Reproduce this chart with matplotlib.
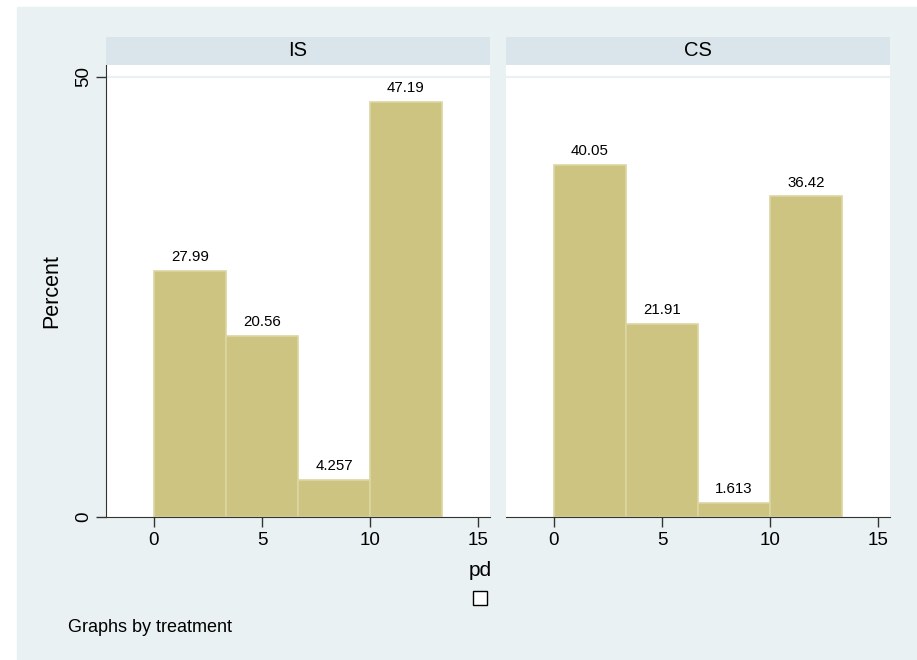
import matplotlib.pyplot as plt
from matplotlib.patches import Rectangle

plt.rcParams['font.family'] = ['Liberation Sans', 'DejaVu Sans']

# --- Data ---
bin_edges = [0, 10 / 3, 20 / 3, 10, 40 / 3]
groups = ['IS', 'CS']
pct_is = [27.99, 20.56, 4.257, 47.19]
pct_cs = [40.05, 21.91, 1.613, 36.42]
labels_is = ['27.99', '20.56', '4.257', '47.19']
labels_cs = ['40.05', '21.91', '1.613', '36.42']
x_ticks = [0, 5, 10, 15]
y_ticks = [0, 50]

bg = '#eaf1f3'
strip = '#d9e5eb'
bar_fill = '#cdc482'
bar_edge = '#dcd6a2'

W, H = 917, 660
fig = plt.figure(figsize=(W / 100, H / 100), dpi=100, facecolor='white')

# Outer graph region
fig.patches.append(Rectangle((17 / W, 0), 1 - 17 / W, 1 - 7 / H,
                             transform=fig.transFigure, color=bg, zorder=-10))


def px(x0, y0, x1, y1):
    return [x0 / W, 1 - y1 / H, (x1 - x0) / W, (y1 - y0) / H]


panels = [(106, 490, pct_is, labels_is), (506, 890, pct_cs, labels_cs)]
widths = [bin_edges[i + 1] - bin_edges[i] for i in range(4)]

for k, (x0, x1, vals, labs) in enumerate(panels):
    ax = fig.add_axes(px(x0, 65, x1, 517))
    ax.set_facecolor('white')
    ax.bar(bin_edges[:-1], vals, width=widths, align='edge',
           color=bar_fill, edgecolor=bar_edge, linewidth=1.2, zorder=2)
    for xl, v, s in zip(bin_edges[:-1], vals, labs):
        ax.annotate(s, (xl + widths[0] / 2, v), xytext=(0, 5),
                    textcoords='offset points', ha='center', va='bottom',
                    fontsize=10.8, color='black')
    ax.axhline(50, color=bg, lw=1.6, zorder=1)
    ax.set_xlim(-2.222, 15.556)
    ax.set_ylim(0, 51.36)
    ax.set_xticks(x_ticks)
    ax.tick_params(axis='x', length=7, width=1, labelsize=13.5, pad=4,
                   color='#333333')
    for side in ['top', 'right']:
        ax.spines[side].set_visible(False)
    ax.spines['bottom'].set_color('#333333')
    if k == 0:
        ax.set_yticks(y_ticks)
        ax.set_yticklabels([str(t) for t in y_ticks], rotation=90, va='center')
        ax.tick_params(axis='y', length=7, width=1, labelsize=13.5, pad=3,
                       color='#333333')
        ax.spines['left'].set_color('#333333')
        ax.set_ylabel('Percent', fontsize=15.5, labelpad=9)
    else:
        ax.set_yticks([])
        ax.spines['left'].set_visible(False)

    # Panel title strip
    sax = fig.add_axes(px(x0, 37, x1, 65))
    sax.set_facecolor(strip)
    sax.set_xticks([])
    sax.set_yticks([])
    for sp in sax.spines.values():
        sp.set_visible(False)
    sax.text(0.5, 0.5, groups[k], ha='center', va='center', fontsize=14.5,
             transform=sax.transAxes)

# Axis title and empty key
fig.text(480 / W, 1 - 571 / H, 'pd', ha='center', va='center', fontsize=15)
fig.patches.append(Rectangle((473 / W, 1 - 605 / H), 14 / W, 14 / H,
                             transform=fig.transFigure, facecolor='white',
                             edgecolor='black', linewidth=1))

fig.text(68 / W, 1 - 627 / H, 'Graphs by treatment', ha='left', va='center',
         fontsize=13)

fig.savefig('out.png', dpi=100, facecolor='white')
